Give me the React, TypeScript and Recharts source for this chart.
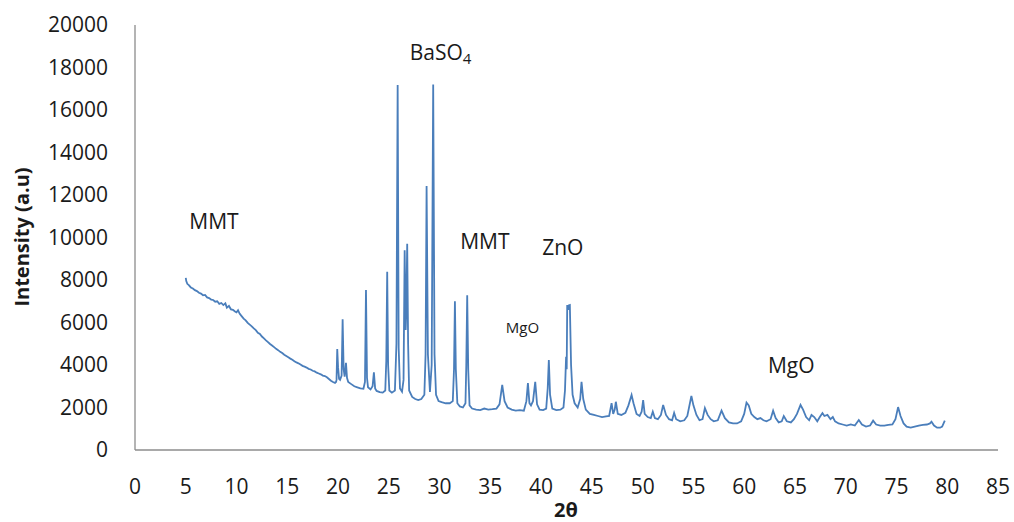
import { LineChart, Line, XAxis, YAxis, ReferenceDot } from "recharts";

// 2θ positions (degrees)
const twoTheta = [
	5.0, 5.05, 5.15, 5.3, 5.5, 5.7, 5.9, 6.1, 6.3, 6.5,
	6.7, 6.9, 7.1, 7.3, 7.5, 7.7, 7.9, 8.1, 8.3, 8.5,
	8.7, 8.9, 9.05, 9.25, 9.45, 9.65, 9.85, 10.0, 10.15, 10.3,
	10.5, 10.7, 10.9, 11.1, 11.3, 11.5, 11.7, 11.9, 12.1, 12.3,
	12.5, 12.7, 12.9, 13.1, 13.3, 13.5, 13.7, 13.9, 14.1, 14.3,
	14.5, 14.7, 14.9, 15.1, 15.3, 15.5, 15.7, 15.9, 16.1, 16.3,
	16.5, 16.7, 16.9, 17.1, 17.3, 17.5, 17.7, 17.9, 18.1, 18.3,
	18.5, 18.7, 18.9, 19.1, 19.3, 19.5, 19.7, 19.8, 19.85, 19.92,
	20.0, 20.1, 20.2, 20.35, 20.45, 20.55, 20.65, 20.78, 20.88, 21.0,
	21.3, 21.6, 21.9, 22.2, 22.5, 22.65, 22.75, 22.85, 22.95, 23.2,
	23.4, 23.53, 23.65, 23.8, 24.1, 24.4, 24.65, 24.75, 24.84, 24.93,
	25.05, 25.3, 25.6, 25.75, 25.87, 25.97, 26.1, 26.3, 26.45, 26.56,
	26.66, 26.72, 26.81, 26.9, 27.0, 27.3, 27.6, 27.9, 28.2, 28.5,
	28.62, 28.72, 28.85, 29.05, 29.22, 29.37, 29.5, 29.65, 29.9, 30.2,
	30.6, 31.0, 31.3, 31.42, 31.51, 31.6, 31.75, 32.0, 32.3, 32.55,
	32.63, 32.72, 32.82, 32.95, 33.2, 33.6, 34.0, 34.4, 34.8, 35.2,
	35.6, 35.9, 36.17, 36.4, 36.7, 37.1, 37.5, 37.9, 38.3, 38.55,
	38.7, 38.85, 39.0, 39.2, 39.42, 39.6, 39.85, 40.2, 40.5, 40.65,
	40.76, 40.88, 41.1, 41.5, 41.9, 42.2, 42.35, 42.46, 42.52, 42.57,
	42.65, 42.72, 42.83, 42.95, 43.1, 43.3, 43.6, 43.85, 43.98, 44.15,
	44.4, 44.8, 45.2, 45.6, 46.0, 46.4, 46.7, 46.94, 47.1, 47.25,
	47.36, 47.55, 47.9, 48.3, 48.6, 48.91, 49.1, 49.4, 49.7, 49.9,
	50.05, 50.2, 50.5, 50.8, 51.0, 51.2, 51.5, 51.8, 52.02, 52.3,
	52.6, 52.9, 53.1, 53.3, 53.7, 54.1, 54.4, 54.8, 55.0, 55.3,
	55.6, 55.9, 56.13, 56.4, 56.7, 57.0, 57.4, 57.77, 58.1, 58.5,
	58.9, 59.3, 59.7, 60.0, 60.23, 60.45, 60.7, 61.0, 61.3, 61.6,
	61.9, 62.2, 62.6, 62.85, 63.1, 63.4, 63.7, 63.9, 64.2, 64.6,
	64.9, 65.2, 65.55, 65.8, 66.1, 66.4, 66.63, 66.9, 67.2, 67.45,
	67.71, 67.9, 68.2, 68.5, 68.73, 68.95, 69.3, 69.7, 70.1, 70.5,
	70.9, 71.29, 71.6, 72.0, 72.4, 72.7, 73.0, 73.4, 73.8, 74.2,
	74.6, 74.9, 75.16, 75.4, 75.7, 76.0, 76.4, 76.8, 77.2, 77.6,
	78.0, 78.3, 78.45, 78.7, 79.0, 79.3, 79.5, 79.76,
];

// intensity (a.u), same order as twoTheta
const intensity = [
	8100, 7950, 7820, 7760, 7650, 7600, 7520, 7480, 7400, 7360,
	7280, 7300, 7180, 7150, 7080, 7060, 6980, 7000, 6880, 6920,
	6820, 6900, 6700, 6780, 6620, 6600, 6520, 6480, 6580, 6420,
	6300, 6180, 6100, 5980, 5900, 5820, 5720, 5640, 5520, 5460,
	5340, 5250, 5160, 5080, 4990, 4920, 4840, 4760, 4700, 4620,
	4560, 4480, 4420, 4360, 4300, 4250, 4180, 4120, 4080, 4020,
	3960, 3920, 3880, 3820, 3790, 3730, 3700, 3640, 3600, 3560,
	3500, 3480, 3420, 3340, 3260, 3200, 3160, 3200, 3300, 4750,
	3900, 3350, 3300, 3500, 6150, 3800, 3450, 4100, 3400, 3200,
	3100, 3000, 2950, 2900, 2880, 3200, 7530, 3400, 2950, 2850,
	3000, 3650, 2900, 2780, 2720, 2700, 2800, 4200, 8390, 4000,
	2800, 2700, 2800, 5000, 17180, 4800, 2900, 2750, 3300, 9400,
	5650, 6500, 9700, 5000, 2800, 2500, 2400, 2350, 2400, 2600,
	4500, 12420, 4500, 2730, 4000, 17200, 4500, 2600, 2300, 2250,
	2200, 2200, 2300, 3800, 7000, 3800, 2200, 2050, 2000, 2200,
	4000, 7280, 3800, 2100, 1950, 1900, 1880, 1950, 1900, 1920,
	1950, 2150, 3060, 2300, 2000, 1900, 1850, 1880, 1850, 2300,
	3150, 2200, 2100, 2300, 3210, 2150, 1900, 1880, 1950, 2900,
	4230, 2600, 1950, 1880, 1900, 2000, 2800, 4390, 3800, 6820,
	6600, 6800, 6820, 4000, 2600, 2200, 2000, 2400, 3210, 2400,
	1900, 1700, 1650, 1600, 1550, 1580, 1600, 2200, 1700, 1900,
	2270, 1700, 1650, 1750, 2100, 2590, 2200, 1700, 1600, 1800,
	2350, 1700, 1550, 1500, 1800, 1500, 1450, 1650, 2120, 1650,
	1450, 1400, 1750, 1450, 1350, 1400, 1600, 2540, 2100, 1650,
	1400, 1450, 1970, 1650, 1450, 1350, 1400, 1850, 1500, 1300,
	1250, 1250, 1350, 1700, 2230, 2100, 1700, 1550, 1450, 1500,
	1400, 1350, 1450, 1850, 1500, 1300, 1350, 1600, 1350, 1300,
	1450, 1700, 2120, 1900, 1550, 1400, 1650, 1550, 1350, 1550,
	1740, 1600, 1650, 1450, 1550, 1350, 1250, 1200, 1150, 1200,
	1150, 1410, 1200, 1100, 1150, 1380, 1200, 1150, 1150, 1180,
	1200, 1450, 2020, 1600, 1250, 1100, 1050, 1100, 1150, 1180,
	1200, 1250, 1330, 1150, 1050, 1050, 1100, 1380,
];

const xTicks = [0, 5, 10, 15, 20, 25, 30, 35, 40, 45, 50, 55, 60, 65, 70, 75, 80, 85];
const yTicks = [0, 2000, 4000, 6000, 8000, 10000, 12000, 14000, 16000, 18000, 20000];

// phase annotations
const phaseNames = ["MMT", "BaSO", "MMT", "ZnO", "MgO", "MgO"];
const phaseSub = ["", "4", "", "", "", ""];
const phaseTheta = [7.78, 30.1, 34.46, 42.14, 38.16, 64.64];
const phaseIntensity = [10790, 18730, 9835, 9550, 5790, 4000];
const phaseSmall = [false, false, false, false, true, false];

const data = twoTheta.map((t, i) => ({ t, v: intensity[i] }));

const font = "'Open Sans', 'DejaVu Sans', sans-serif";

const App = () => {
	return (
		<div style={{ position: "absolute", left: 0, top: 0, width: 1014, height: 522, background: "#fff", overflow: "hidden" }}>
			<LineChart width={1014} height={522} data={data} margin={{ top: 25, right: 16, bottom: 22, left: 0 }}>
				<XAxis
					type="number"
					dataKey="t"
					domain={[0, 85]}
					ticks={xTicks}
					interval={0}
					height={50}
					tickLine={false}
					tickSize={0}
					tickMargin={29}
					axisLine={{ stroke: "#8c8c8c", strokeWidth: 1.3 }}
					tick={{ fill: "#1a1a1a", fontSize: 21, fontFamily: font }}
				/>
				<YAxis
					type="number"
					domain={[0, 20000]}
					ticks={yTicks}
					interval={0}
					width={135}
					tickLine={false}
					tickSize={0}
					tickMargin={27}
					axisLine={{ stroke: "#8c8c8c", strokeWidth: 1.3 }}
					tick={{ fill: "#1a1a1a", fontSize: 21, fontFamily: font }}
				/>
				<Line
					type="linear"
					dataKey="v"
					stroke="#4a7ebb"
					strokeWidth={1.8}
					dot={false}
					isAnimationActive={false}
				/>
				{phaseNames.map((name, i) => (
					<ReferenceDot
						key={i}
						x={phaseTheta[i]}
						y={phaseIntensity[i]}
						r={1}
						ifOverflow="visible"
						shape={(p: any) => (
							<text
								x={p.cx}
								y={p.cy}
								textAnchor="middle"
								dominantBaseline="central"
								fontFamily={font}
								fontSize={phaseSmall[i] ? 15 : 21}
								fill="#1a1a1a"
							>
								{name}
								{phaseSub[i] ? (
									<tspan fontSize={15} dy={6}>
										{phaseSub[i]}
									</tspan>
								) : null}
							</text>
						)}
					/>
				))}
			</LineChart>
			<div
				style={{
					position: "absolute",
					left: 22,
					top: 237,
					transform: "translate(-50%, -50%) rotate(-90deg)",
					whiteSpace: "nowrap",
					fontFamily: font,
					fontWeight: "bold",
					fontSize: 20,
					lineHeight: "22px",
					color: "#1a1a1a",
				}}
			>
				Intensity (a.u)
			</div>
			<div
				style={{
					position: "absolute",
					left: 566,
					top: 510,
					transform: "translate(-50%, -50%)",
					whiteSpace: "nowrap",
					fontFamily: font,
					fontWeight: "bold",
					fontSize: 20,
					lineHeight: "20px",
					color: "#1a1a1a",
				}}
			>
				2θ
			</div>
		</div>
	);
};

export default App;
